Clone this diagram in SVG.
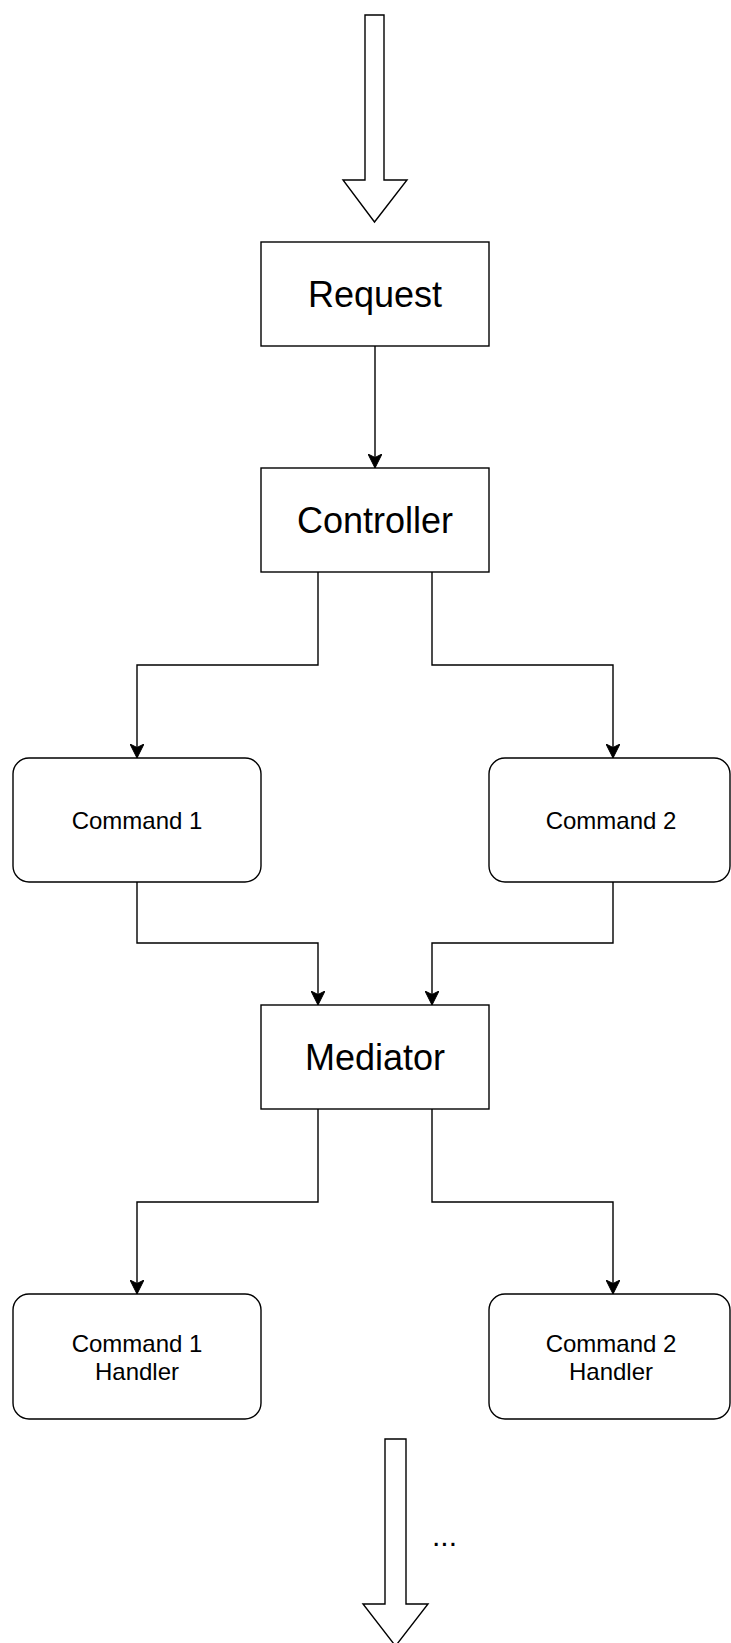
<svg xmlns="http://www.w3.org/2000/svg" width="731" height="1643" viewBox="0 0 731 1643">
  <style>
    .box { fill: #ffffff; stroke: #000000; stroke-width: 1.4; }
    .big { font-family: "Liberation Sans", Arial, Helvetica, sans-serif; font-size: 36px; fill: #000000; text-anchor: middle; }
    .small { font-family: "Liberation Sans", Arial, Helvetica, sans-serif; font-size: 24px; fill: #000000; text-anchor: middle; }
    .conn { fill: none; stroke: #000000; stroke-width: 1.4; marker-end: url(#arrow); }
    .fat { fill: #ffffff; stroke: #000000; stroke-width: 1.4; stroke-linejoin: miter; }
  </style>
  <defs>
    <marker id="arrow" viewBox="0 0 14 14" refX="14" refY="7" markerWidth="14" markerHeight="14" markerUnits="userSpaceOnUse" orient="auto">
      <path d="M0,0 L14,7 L0,14 L3.5,7 Z" fill="#000000" stroke="#000000" stroke-width="1"/>
    </marker>
  </defs>
  <rect x="0" y="0" width="731" height="1643" fill="#ffffff"/>

  <g id="input-arrow">
    <polygon class="fat" points="365,15 384,15 384,180 407,180 374.5,222 343,180 365,180"/>
  </g>

  <g id="connectors">
    <path class="conn" d="M375 346 V468"/>
    <path class="conn" d="M318 572 V665 H137 V758"/>
    <path class="conn" d="M432 572 V665 H613 V758"/>
    <path class="conn" d="M137 882 V943 H318 V1005"/>
    <path class="conn" d="M613 882 V943 H432 V1005"/>
    <path class="conn" d="M318 1109 V1202 H137 V1294"/>
    <path class="conn" d="M432 1109 V1202 H613 V1294"/>
  </g>

  <g id="request">
    <rect class="box" x="261" y="242" width="228" height="104"/>
    <text class="big" x="375" y="307">Request</text>
  </g>

  <g id="controller">
    <rect class="box" x="261" y="468" width="228" height="104"/>
    <text class="big" x="375" y="533">Controller</text>
  </g>

  <g id="command1">
    <rect class="box" x="13" y="758" width="248" height="124" rx="16" ry="16"/>
    <text class="small" x="137" y="829">Command 1</text>
  </g>

  <g id="command2">
    <rect class="box" x="489" y="758" width="241" height="124" rx="16" ry="16"/>
    <text class="small" x="611" y="829">Command 2</text>
  </g>

  <g id="mediator">
    <rect class="box" x="261" y="1005" width="228" height="104"/>
    <text class="big" x="375" y="1070">Mediator</text>
  </g>

  <g id="command1-handler">
    <rect class="box" x="13" y="1294" width="248" height="125" rx="16" ry="16"/>
    <text class="small" x="137" y="1352">Command 1</text>
    <text class="small" x="137" y="1380">Handler</text>
  </g>

  <g id="command2-handler">
    <rect class="box" x="489" y="1294" width="241" height="125" rx="16" ry="16"/>
    <text class="small" x="611" y="1352">Command 2</text>
    <text class="small" x="611" y="1380">Handler</text>
  </g>

  <g id="output-arrow">
    <polygon class="fat" points="385,1439 406,1439 406,1604 428,1604 395.5,1646 363,1604 385,1604"/>
    <text x="432" y="1546" font-family="'Liberation Sans', Arial, sans-serif" font-size="30" fill="#000000">...</text>
  </g>
</svg>
